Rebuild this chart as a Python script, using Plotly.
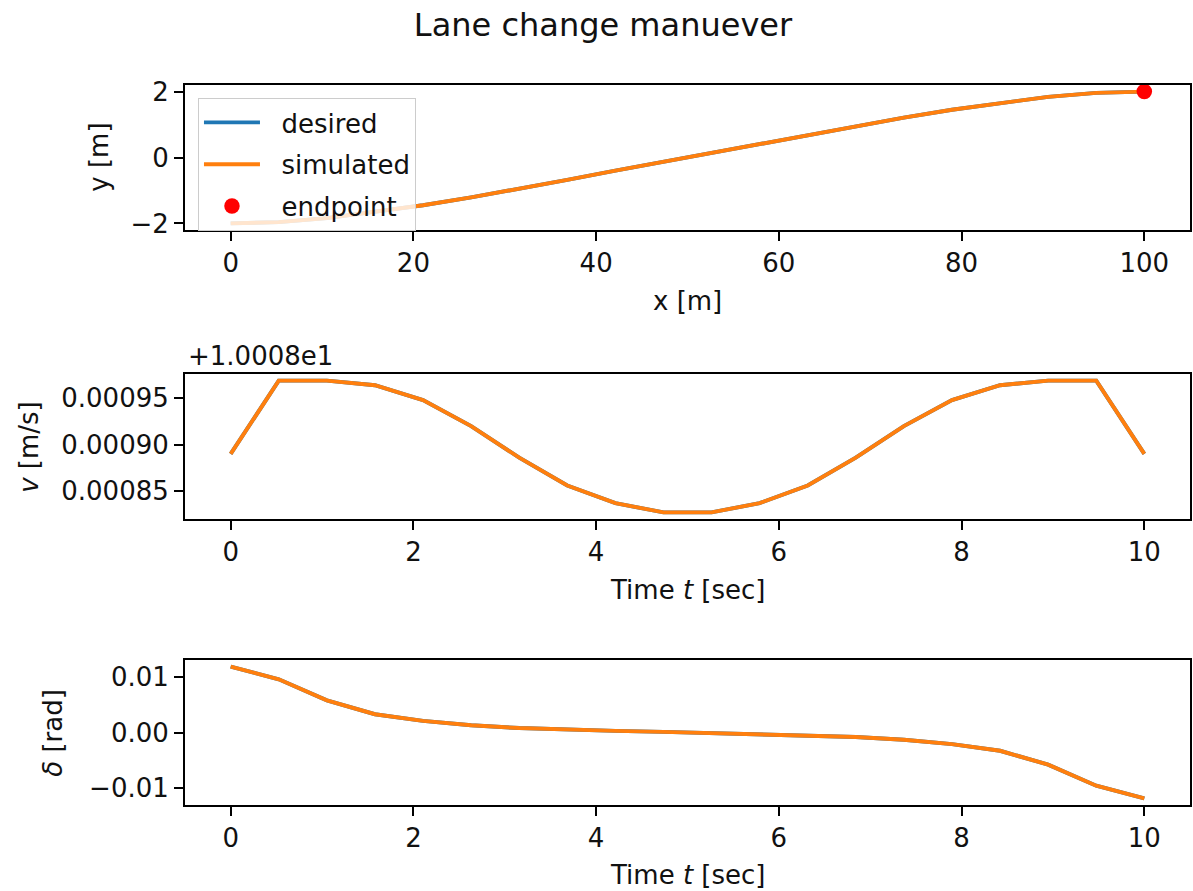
import plotly.graph_objects as go
from plotly.subplots import make_subplots

# ---------------- data ----------------
t = [0.0, 0.526, 1.053, 1.579, 2.105, 2.632, 3.158, 3.684, 4.211, 4.737,
     5.263, 5.789, 6.316, 6.842, 7.368, 7.895, 8.421, 8.947, 9.474, 10.0]

x_pos = [0.0, 5.26, 10.53, 15.79, 21.05, 26.32, 31.58, 36.84, 42.11, 47.37,
         52.63, 57.89, 63.16, 68.42, 73.68, 78.95, 84.21, 89.47, 94.74, 100.0]
y_desired = [-2.00, -1.96, -1.84, -1.66, -1.45, -1.21, -0.95, -0.68, -0.40, -0.13,
             0.13, 0.40, 0.68, 0.95, 1.21, 1.45, 1.66, 1.84, 1.96, 2.00]
y_simulated = list(y_desired)

endpoint_x = [100.0]
endpoint_y = [2.0]

v_offset = 10.008
v_desired = [10.008890, 10.008969, 10.008969, 10.008964, 10.008948, 10.008920,
             10.008886, 10.008856, 10.008837, 10.008827, 10.008827, 10.008837,
             10.008856, 10.008886, 10.008920, 10.008948, 10.008964, 10.008969,
             10.008969, 10.008890]
v_simulated = list(v_desired)

delta_desired = [0.0119, 0.0096, 0.0058, 0.0033, 0.0021, 0.0013, 0.0008, 0.0005,
                 0.0003, 0.00012, -0.00012, -0.0003, -0.0005, -0.0008, -0.0013,
                 -0.0021, -0.0033, -0.0058, -0.0096, -0.0119]
delta_simulated = list(delta_desired)

x1_ticks = [0, 20, 40, 60, 80, 100]
t_ticks = [0, 2, 4, 6, 8, 10]
y1_ticks = [-2, 0, 2]
y1_labels = ["\u22122", "0", "2"]
v_ticks = [0.00085, 0.00090, 0.00095]
v_labels = ["0.00085", "0.00090", "0.00095"]
d_ticks = [-0.01, 0.0, 0.01]
d_labels = ["\u22120.01", "0.00", "0.01"]

BLUE = "#1f77b4"
ORANGE = "#ff7f0e"
FONT = "DejaVu Sans"
TXT = "#111111"
NB = "\u00a0\u00a0"

# ---------------- figure ----------------
W, H = 1193, 891
L, R, T, B = 185, 1, 85, 86
PH = H - T - B


def py(p):
    return (H - B - p) / PH


def px(p):
    return (p - L) / (W - L - R)


fig = make_subplots(rows=3, cols=1)

v_d = [v - v_offset for v in v_desired]
v_s = [v - v_offset for v in v_simulated]

fig.add_trace(go.Scatter(x=x_pos, y=y_desired, mode="lines", name=NB + "desired",
                         line=dict(color=BLUE, width=3.9), legendgroup="a"), row=1, col=1)
fig.add_trace(go.Scatter(x=x_pos, y=y_simulated, mode="lines", name=NB + "simulated",
                         line=dict(color=ORANGE, width=3.9), legendgroup="b"), row=1, col=1)
fig.add_trace(go.Scatter(x=endpoint_x, y=endpoint_y, mode="markers", name=NB + "endpoint",
                         marker=dict(color="red", size=15.5), legendgroup="c"), row=1, col=1)

fig.add_trace(go.Scatter(x=t, y=v_d, mode="lines", showlegend=False,
                         line=dict(color=BLUE, width=3.9)), row=2, col=1)
fig.add_trace(go.Scatter(x=t, y=v_s, mode="lines", showlegend=False,
                         line=dict(color=ORANGE, width=3.9)), row=2, col=1)

fig.add_trace(go.Scatter(x=t, y=delta_desired, mode="lines", showlegend=False,
                         line=dict(color=BLUE, width=3.9)), row=3, col=1)
fig.add_trace(go.Scatter(x=t, y=delta_simulated, mode="lines", showlegend=False,
                         line=dict(color=ORANGE, width=3.9)), row=3, col=1)


def margin_range(vals, frac=0.05):
    lo, hi = min(vals), max(vals)
    m = (hi - lo) * frac
    return [lo - m, hi + m]


axis_common = dict(showline=True, mirror=True, linecolor="black", linewidth=2,
                   ticks="outside", ticklen=9, tickwidth=2, tickcolor="black",
                   showgrid=False, zeroline=False,
                   tickfont=dict(family=FONT, size=26, color=TXT))

doms = [(py(230), py(85)), (py(519), py(374)), (py(805), py(660))]

fig.update_layout(
    xaxis=dict(axis_common, domain=[0, 1], range=margin_range(x_pos), tickvals=x1_ticks, anchor="y"),
    yaxis=dict(axis_common, domain=list(doms[0]), range=margin_range(y_desired + endpoint_y),
               tickvals=y1_ticks, ticktext=y1_labels, anchor="x"),
    xaxis2=dict(axis_common, domain=[0, 1], range=margin_range(t), tickvals=t_ticks, anchor="y2"),
    yaxis2=dict(axis_common, domain=list(doms[1]), range=margin_range(v_s),
                tickvals=v_ticks, ticktext=v_labels, anchor="x2"),
    xaxis3=dict(axis_common, domain=[0, 1], range=margin_range(t), tickvals=t_ticks, anchor="y3"),
    yaxis3=dict(axis_common, domain=list(doms[2]), range=margin_range(delta_simulated),
                tickvals=d_ticks, ticktext=d_labels, anchor="x3"),
)

annots = [
    dict(text="x [m]", x=0.5, y=py(301)),
    dict(text="Time <i>t</i> [sec]", x=0.5, y=py(590)),
    dict(text="Time <i>t</i> [sec]", x=0.5, y=py(875)),
    dict(text="y [m]", x=px(98), y=py(157.5), textangle=-90),
    dict(text="<i>v</i> [m/s]", x=px(28), y=py(446.5), textangle=-90),
    dict(text="<i>δ</i> [rad]", x=px(52), y=py(732.5), textangle=-90),
]
for a in annots:
    fig.add_annotation(xref="paper", yref="paper", showarrow=False,
                       xanchor="center", yanchor="middle",
                       font=dict(family=FONT, size=26, color=TXT), **a)

fig.add_annotation(xref="paper", yref="paper", showarrow=False,
                   text="+1.0008e1", x=px(186), y=py(356), xanchor="left", yanchor="middle",
                   font=dict(family=FONT, size=26, color=TXT))

fig.update_layout(
    width=W, height=H,
    margin=dict(l=L, r=R, t=T, b=B),
    paper_bgcolor="white", plot_bgcolor="white",
    title=dict(text="Lane change manuever", x=603 / W, xref="container", xanchor="center",
               y=1 - 25 / H, yref="container", yanchor="middle",
               font=dict(family=FONT, size=32, color=TXT)),
    font=dict(family=FONT, size=26, color=TXT),
    legend=dict(x=px(198), y=py(98), xanchor="left", yanchor="top",
                bgcolor="rgba(255,255,255,0.8)", bordercolor="#cccccc", borderwidth=1,
                font=dict(family=FONT, size=26, color=TXT), tracegroupgap=5,
                itemwidth=56),
    showlegend=True,
)

fig.write_html(
    "out.html",
    config={"displayModeBar": False},
    post_script="document.body.style.margin='0';document.body.style.padding='0';"
                "document.body.style.overflow='hidden';"
                "document.documentElement.style.overflow='hidden';",
)
